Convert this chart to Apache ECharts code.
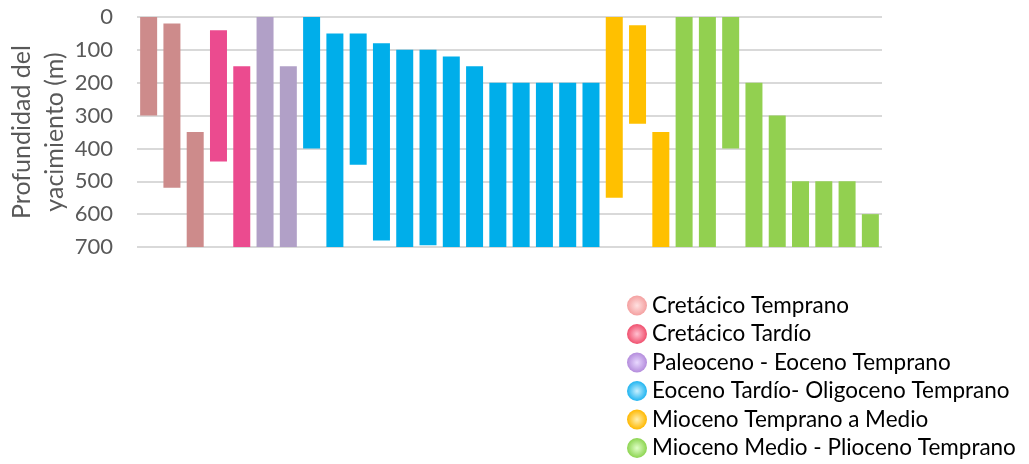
<!DOCTYPE html>
<html>
<head>
<meta charset="utf-8">
<script src="https://cdn.jsdelivr.net/npm/echarts@6/dist/echarts.min.js"></script>
<style>html,body{margin:0;padding:0;background:#fff}#c{width:1029px;height:464px}</style>
</head>
<body>
<div id="c"></div>
<script>
// Data
const groupNames = [
  'Cretácico Temprano',
  'Cretácico Tardío',
  'Paleoceno - Eoceno Temprano',
  'Eoceno Tardío- Oligoceno Temprano',
  'Mioceno Temprano a Medio',
  'Mioceno Medio - Plioceno Temprano'
];
const groupSizes = [3, 2, 2, 13, 3, 9];
const topDepth = [0, 20, 350, 40, 150, 0, 150, 0, 50, 50, 80, 100, 100, 120, 150, 200, 200, 200, 200, 200, 0, 25, 350, 0, 0, 0, 200, 300, 500, 500, 500, 600];
const bottomDepth = [300, 520, 700, 440, 700, 700, 700, 400, 700, 450, 680, 700, 695, 700, 700, 700, 700, 700, 700, 700, 550, 325, 700, 700, 700, 400, 700, 700, 700, 700, 700, 700];
const yTicks = [0, 100, 200, 300, 400, 500, 600, 700];
const categories = topDepth.map((_, i) => String(i + 1));

const barColors = ['#CD8B8B', '#EB4B8F', '#B1A0C7', '#00AEEA', '#FFC000', '#92D050'];
const iconColors = [['#FFE0E0', '#F4A0A0'], ['#FFC0D0', '#F0506E'], ['#E8D8FF', '#B48CDC'], ['#C8F0FF', '#20B4F0'], ['#FFF0B0', '#FFB800'], ['#E0FFC8', '#8CD450']];

const groupOf = [];
groupSizes.forEach((n, g) => { for (let k = 0; k < n; k++) groupOf.push(g); });

const series = [{
  name: 'base', type: 'bar', stack: 'd', silent: true,
  itemStyle: { color: 'transparent' },
  data: topDepth, barCategoryGap: '27%'
}];
groupNames.forEach((name, g) => {
  series.push({
    name, type: 'bar', stack: 'd',
    itemStyle: { color: barColors[g] },
    data: topDepth.map((t, i) => groupOf[i] === g ? bottomDepth[i] - t : '-')
  });
});

const chart = echarts.init(document.getElementById('c'));
chart.setOption({
  animation: false,
  textStyle: { fontFamily: 'Lato, "Open Sans", sans-serif' },
  grid: { left: 137, right: 147, top: 17, bottom: 217, containLabel: false, outerBoundsMode: 'none' },
  xAxis: {
    type: 'category', data: categories,
    axisLine: { show: false }, axisTick: { show: false }, axisLabel: { show: false }
  },
  yAxis: {
    type: 'value', inverse: true, min: 0, max: 700, interval: 100,
    axisLine: { show: false }, axisTick: { show: false },
    axisLabel: { color: '#595959', fontSize: 22, margin: 24,
      formatter: v => yTicks.includes(v) ? String(v) : '' },
    splitLine: { lineStyle: { color: '#D9D9D9', width: 2 } },
    name: 'Profundidad del\nyacimiento (m)', nameLocation: 'middle', nameGap: 66,
    nameMoveOverlap: false,
    nameTextStyle: { color: '#595959', fontSize: 25, lineHeight: 33 }
  },
  legend: {
    orient: 'vertical', left: 627, top: 294, padding: 0, height: 200,
    itemWidth: 20, itemHeight: 20, itemGap: 5.5, icon: 'circle',
    textStyle: { color: '#000', fontSize: 22.5, lineHeight: 20 },
    data: groupNames.map((name, g) => ({
      name,
      itemStyle: { color: new echarts.graphic.RadialGradient(0.5, 0.5, 0.5, [
        { offset: 0, color: iconColors[g][0] }, { offset: 1, color: iconColors[g][1] }]) }
    }))
  },
  series
});
</script>
</body>
</html>
